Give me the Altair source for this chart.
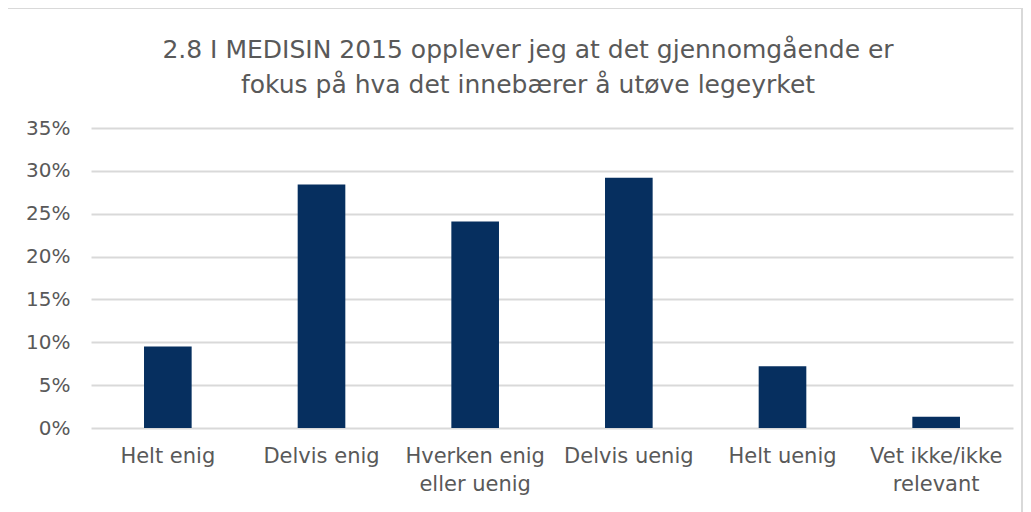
import altair as alt
import pandas as pd

categories = ["Helt enig", "Delvis enig", "Hverken enig eller uenig",
              "Delvis uenig", "Helt uenig", "Vet ikke/ikke relevant"]
values = [0.095, 0.284, 0.241, 0.292, 0.072, 0.013]
title_lines = ["2.8 I MEDISIN 2015 opplever jeg at det gjennomgående er",
               "fokus på hva det innebærer å utøve legeyrket"]

df = pd.DataFrame({"kategori": categories, "andel": values})

FONT = "DejaVu Sans"
GRAY = "#595959"
GRID = "#D9D9D9"

label_expr = (
    "datum.label == 'Hverken enig eller uenig' ? ['Hverken enig', 'eller uenig'] : "
    "datum.label == 'Vet ikke/ikke relevant' ? ['Vet ikke/ikke', 'relevant'] : datum.label"
)

bars = alt.Chart(df).mark_bar(color="#062F5F").encode(
    x=alt.X("kategori:N", sort=categories,
            scale=alt.Scale(paddingInner=0.69, paddingOuter=0.345),
            axis=alt.Axis(title=None, labelAngle=0, labelExpr=label_expr,
                          labelFont=FONT, labelFontSize=21, labelColor=GRAY,
                          labelPadding=17, labelLineHeight=28, ticks=False,
                          domain=False, labelLimit=300)),
    y=alt.Y("andel:Q", scale=alt.Scale(domain=[0, 0.35], nice=False),
            axis=alt.Axis(title=None, format=".0%", values=[0, 0.05, 0.1, 0.15, 0.2, 0.25, 0.3, 0.35],
                          labelFont=FONT, labelFontSize=20, labelColor=GRAY,
                          labelPadding=21, ticks=False, domain=False,
                          grid=True, gridColor=GRID, gridWidth=2)),
)

border = alt.Chart(pd.DataFrame({"a": [0]})).mark_rect(
    fill=None, stroke=GRID, strokeWidth=2
).encode(
    x=alt.value(-84), x2=alt.value(931), y=alt.value(-120), y2=alt.value(400)
)

title = alt.Chart(pd.DataFrame({"t": ["\n".join(title_lines)]})).mark_text(
    font=FONT, fontSize=25, color=GRAY, align="center", baseline="alphabetic",
    lineBreak="\n", lineHeight=35
).encode(
    text="t:N", x=alt.value(437), y=alt.value(-70)
)

chart = alt.layer(border, bars, title).properties(
    width=922, height=300,
    autosize=alt.AutoSizeParams(type="none"),
    padding={"left": 83, "top": 120, "right": 10, "bottom": 90},
).configure_view(stroke=None)

chart.save("out.html", embed_options={"renderer": "svg", "actions": False})
